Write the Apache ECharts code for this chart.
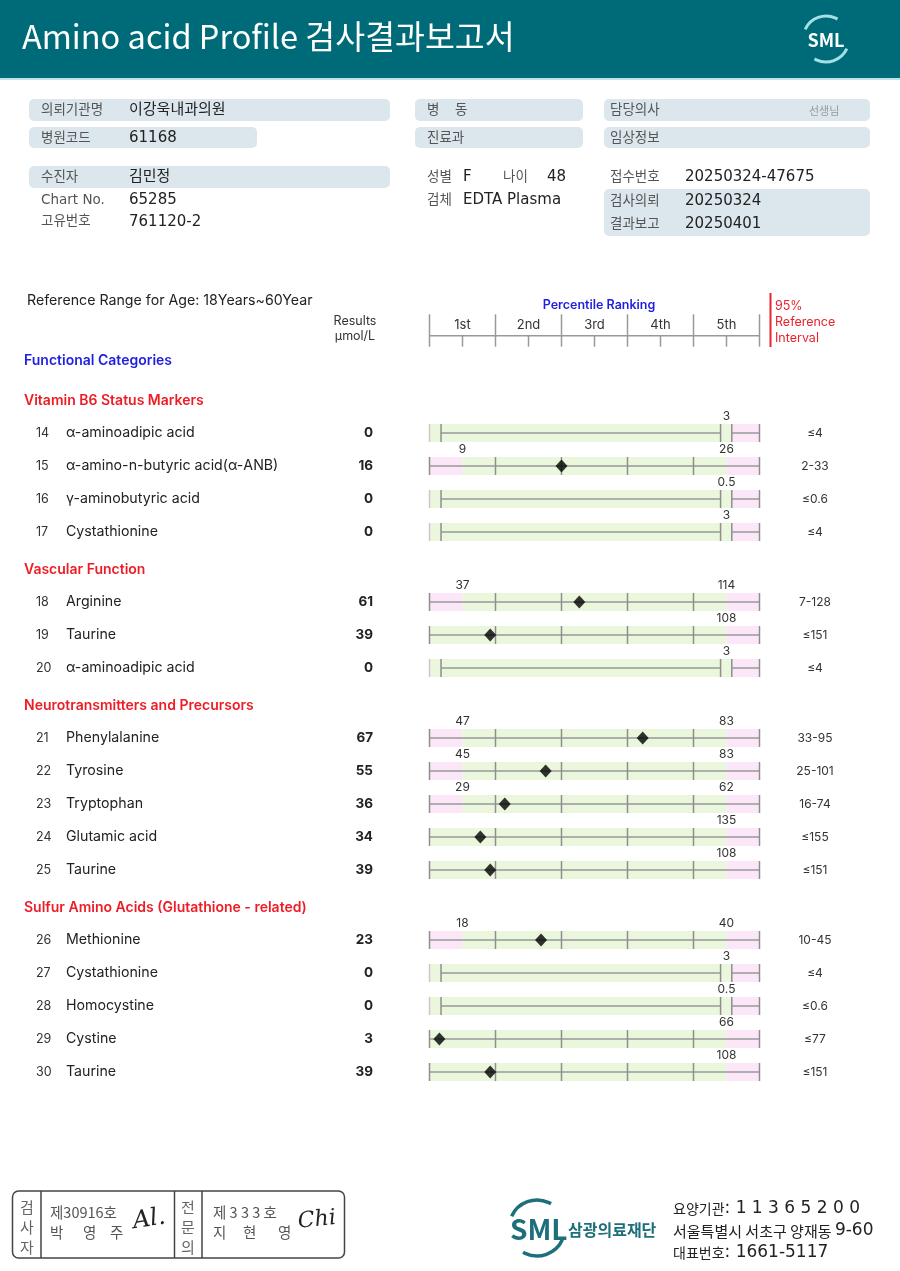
<!DOCTYPE html>
<html><head><meta charset="utf-8">
<script src="https://cdn.jsdelivr.net/npm/echarts@6/dist/echarts.min.js"></script>
<style>html,body{margin:0;padding:0;background:#fff}#c{width:900px;height:1271px}</style>
</head><body><div id="c"></div>
<script>
// ---------------- data ----------------
const sectionTitles = ['Vitamin B6 Status Markers','Vascular Function','Neurotransmitters and Precursors','Sulfur Amino Acids (Glutathione - related)'];
const sectionSizes = [4, 3, 5, 5];
const rowNumbers = [14,15,16,17,18,19,20,21,22,23,24,25,26,27,28,29,30];
const analyteNames = ['α-aminoadipic acid','α-amino-n-butyric acid(α-ANB)','γ-aminobutyric acid','Cystathionine',
  'Arginine','Taurine','α-aminoadipic acid',
  'Phenylalanine','Tyrosine','Tryptophan','Glutamic acid','Taurine',
  'Methionine','Cystathionine','Homocystine','Cystine','Taurine'];
const resultValues = [0,16,0,0, 61,39,0, 67,55,36,34,39, 23,0,0,3,39];
const refIntervals = ['≤4','2-33','≤0.6','≤4', '7-128','≤151','≤4', '33-95','25-101','16-74','≤155','≤151', '10-45','≤4','≤0.6','≤77','≤151'];
const lowMarks  = [null,9,null,null, 37,null,null, 47,45,29,null,null, 18,null,null,null,null];
const highMarks = [3,26,0.5,3, 114,108,3, 83,83,62,135,108, 40,3,0.5,66,108];
// marker position on the percentile scale (0..5 = 1st..5th quintile)
const percentilePos = [null,2.0,null,null, 2.27,0.92,null, 3.23,1.76,1.14,0.77,0.92, 1.69,null,null,0.15,0.92];
const percentileLabels = ['1st','2nd','3rd','4th','5th'];

// ---------------- layout / style ----------------
const TRACK_LEFT = 429.5, TRACK_W = 330;
const ROW_H = 33, FIRST_Y = 433, SECTION_GAP = 37, BAND_H = 18;
const GREEN = '#eaf7dc', PINK = '#fce7f9', TICK = '#8e8e8e', LINE = '#999999';
const ZL = 0.175, ZM = 4.41, ZS = 4.58;
const FONT = 'Inter';
const KR = '"Noto Sans CJK KR"';
const MIX = '"DejaVu Sans", "Noto Sans CJK KR"';

function rowKind(g){ if (resultValues[g] === 0) return 'zero'; return lowMarks[g] != null ? 'range' : 'upper'; }

const sectionRows = []; const firstCenters = [];
let cnt = 0;
sectionSizes.forEach((n, si) => {
  firstCenters.push(FIRST_Y + cnt * ROW_H + si * SECTION_GAP);
  const arr = []; for (let k = 0; k < n; k++) arr.push(cnt + k);
  sectionRows.push(arr); cnt += n;
});

function txt(x, y, text, o) {
  o = o || {};
  const al = o.align || 'left';
  return {type:'text', x, y, silent:true, rotation:o.rotation||0, style:{text, fill:o.color||'#222',
    font:(o.style||'normal')+' '+(o.weight||'normal')+' '+(o.size||13)+'px '+(o.family||FONT),
    align:al, textAlign:al, verticalAlign:'middle', textVerticalAlign:'middle', rich:o.rich}};
}
function box(x, y, w, h) { return {type:'rect', silent:true, shape:{x, y, width:w, height:h, r:5}, style:{fill:'#dce6ed'}}; }

function trackItem(params, api) {
  const li = api.value(1), g = api.value(2);
  const X = v => api.coord([v, li])[0];
  const cy = api.coord([0, li])[1];
  const top = cy - BAND_H / 2;
  const kids = [];
  const rect = (a, b, fill) => kids.push({type:'rect', shape:{x:X(a), y:top, width:X(b)-X(a), height:BAND_H}, style:{fill}});
  const vline = (v, c) => kids.push({type:'line', shape:{x1:X(v), y1:top, x2:X(v), y2:top+BAND_H}, style:{stroke:c||TICK, lineWidth:1.5}});
  const hline = (a, b) => kids.push({type:'line', shape:{x1:X(a), y1:cy, x2:X(b), y2:cy}, style:{stroke:LINE, lineWidth:1.5}});
  const label = (v, t) => kids.push({type:'text', x:X(v), y:cy-17, style:{text:String(t), fill:'#333', font:'12px '+FONT,
      align:'center', textAlign:'center', verticalAlign:'middle', textVerticalAlign:'middle'}});
  const kind = rowKind(g);
  if (kind === 'zero') {
    rect(0, ZS, GREEN); rect(ZS, 5, PINK);
    vline(0, '#c8c8c8'); hline(ZL, ZM); vline(ZL); vline(ZM); vline(ZS); hline(ZS, 5); vline(5);
    label(4.5, highMarks[g]);
  } else {
    if (kind === 'range') { rect(0, 0.5, PINK); rect(0.5, 4.5, GREEN); } else rect(0, 4.5, GREEN);
    rect(4.5, 5, PINK);
    hline(0, 5);
    for (let k = 0; k <= 5; k++) vline(k);
    if (kind === 'range') label(0.5, lowMarks[g]);
    label(4.5, highMarks[g]);
  }
  return {type:'group', children:kids};
}

function headerItem(params, api) {
  const i = api.value(0);
  const X = v => api.coord([v, 0])[0];
  const yTop = api.coord([0, 1])[1], yBot = api.coord([0, 0])[1];
  const yLine = api.coord([0, 0.34])[1], yLab = api.coord([0, 0.67])[1];
  const st = {stroke:'#999', lineWidth:1.5};
  const kids = [
    {type:'line', shape:{x1:X(i), y1:yLine, x2:X(i+1), y2:yLine}, style:st},
    {type:'line', shape:{x1:X(i), y1:yTop, x2:X(i), y2:yBot}, style:st},
    {type:'line', shape:{x1:X(i+0.5), y1:yLine, x2:X(i+0.5), y2:yBot}, style:st},
    {type:'text', x:X(i+0.5), y:yLab, style:{text:percentileLabels[i], fill:'#333', font:'13px '+FONT, align:'center', textAlign:'center', verticalAlign:'middle', textVerticalAlign:'middle'}}
  ];
  if (i === percentileLabels.length - 1) kids.push({type:'line', shape:{x1:X(i+1), y1:yTop, x2:X(i+1), y2:yBot}, style:st});
  return {type:'group', children:kids};
}

// ---------------- option ----------------
const grids = [], xAxes = [], yAxes = [], series = [];
sectionRows.forEach((rows, si) => {
  grids.push({left:TRACK_LEFT, width:TRACK_W, top:firstCenters[si] - ROW_H/2, height:ROW_H*rows.length, containLabel:false, outerBoundsMode:'none'});
  xAxes.push({type:'value', gridIndex:si, min:0, max:5, show:false});
  const cats = rows.map(String);
  const yl = yAxes.length;
  yAxes.push({type:'category', gridIndex:si, data:cats, inverse:true, position:'left',
    axisLine:{show:false}, axisTick:{show:false}, splitLine:{show:false},
    axisLabel:{interval:0, margin:TRACK_LEFT-373, formatter:v => { const g = Number(v);
      return '{n|'+rowNumbers[g]+'}{t|'+analyteNames[g]+'}{r|'+resultValues[g]+'}'; },
      rich:{n:{width:30, align:'left', fontSize:12.5, color:'#333', fontFamily:FONT},
            t:{width:274, align:'left', fontSize:14.2, color:'#222', fontFamily:FONT},
            r:{width:33, align:'right', fontSize:13.5, fontWeight:'bold', color:'#222', fontFamily:FONT}}}});
  yAxes.push({type:'category', gridIndex:si, data:cats, inverse:true, position:'right',
    axisLine:{show:false}, axisTick:{show:false}, splitLine:{show:false},
    axisLabel:{interval:0, margin:35.5, formatter:v => '{a|'+refIntervals[Number(v)]+'}',
      rich:{a:{width:40, align:'center', fontSize:12, color:'#333', fontFamily:FONT}}}});
  series.push({type:'custom', xAxisIndex:si, yAxisIndex:yl, clip:false, silent:true, z:2,
    renderItem:trackItem, data:rows.map((g, li) => [0, li, g])});
  series.push({type:'scatter', xAxisIndex:si, yAxisIndex:yl, silent:true, z:5, symbol:'diamond', symbolSize:[12,13],
    itemStyle:{color:'#000'}, data:rows.map((g, li) => percentilePos[g] == null ? null : [percentilePos[g], li]).filter(d => d)});
});
const hg = grids.length;
grids.push({left:TRACK_LEFT, width:TRACK_W, top:314.3, height:32.4, containLabel:false, outerBoundsMode:'none'});
xAxes.push({type:'value', gridIndex:hg, min:0, max:5, show:false});
const hy = yAxes.length;
yAxes.push({type:'value', gridIndex:hg, min:0, max:1, show:false});
series.push({type:'custom', xAxisIndex:hg, yAxisIndex:hy, clip:false, silent:true, renderItem:headerItem,
  data:percentileLabels.map((t, i) => [i, 0])});

// ---------------- page graphics ----------------
const G = [];
G.push({type:'rect', silent:true, shape:{x:0, y:0, width:900, height:78}, style:{fill:'#006b78'}});
G.push({type:'rect', silent:true, shape:{x:0, y:78, width:900, height:2}, style:{fill:'#b9e4ea'}});
G.push(txt(22, 37, 'Amino acid Profile 검사결과보고서', {color:'#fff', size:32.5, family:KR}));
// header logo
G.push({type:'arc', silent:true, shape:{cx:826, cy:39, r:23, startAngle:Math.PI*205/180, endAngle:Math.PI*300/180}, style:{stroke:'#a6dfe6', lineWidth:3, fill:null}});
G.push({type:'arc', silent:true, shape:{cx:826, cy:39, r:23, startAngle:Math.PI*25/180, endAngle:Math.PI*120/180}, style:{stroke:'#a6dfe6', lineWidth:3, fill:null}});
G.push(txt(826, 40, 'SML', {color:'#fff', size:18, weight:'bold', family:KR, align:'center'}));

// info boxes
[[29,99,361,22],[415,99,168,22],[604,99,266,22],[29,127,228,21],[415,127,168,21],[604,127,266,21],[29,166,361,22],[604,189,266,47]]
  .forEach(b => G.push(box(b[0], b[1], b[2], b[3])));
const lab = {color:'#555', size:13.5, family:MIX};
const val = {color:'#222', size:15, family:MIX};
[['의뢰기관명',41,110],['병원코드',41,138],['수진자',41,177],['Chart No.',41,200],['고유번호',41,221],
 ['병',427,110],['동',455,110],['진료과',427,138],['담당의사',610,110],['임상정보',610,138],
 ['성별',427,177],['나이',503,177],['검체',427,200],['접수번호',610,177],['검사의뢰',610,201],['결과보고',610,224]]
  .forEach(t => G.push(txt(t[1], t[2], t[0], lab)));
G.push(txt(809, 111, '선생님', {color:'#999', size:11, family:KR}));
[['이강욱내과의원',129,110],['61168',129,138],['김민정',129,177],['65285',129,200],['761120-2',129,222],
 ['F',463,177],['48',547,177],['EDTA Plasma',463,200],['20250324-47675',685,177],['20250324',685,201],['20250401',685,224]]
  .forEach(t => G.push(txt(t[1], t[2], t[0], val)));

// chart headings
G.push(txt(27, 301, 'Reference Range for Age: 18Years~60Year', {size:14.2, color:'#222'}));
G.push(txt(355, 321, 'Results', {size:12.5, color:'#333', align:'center'}));
G.push(txt(355, 336, 'μmol/L', {size:12.5, color:'#333', align:'center'}));
G.push(txt(24, 361, 'Functional Categories', {size:14, weight:600, color:'#1f1fe0'}));
G.push(txt(599, 305, 'Percentile Ranking', {size:12.5, weight:600, color:'#1f1fe0', align:'center'}));
G.push({type:'line', silent:true, shape:{x1:770.5, y1:293, x2:770.5, y2:347}, style:{stroke:'#e8232d', lineWidth:2}});
G.push(txt(775, 306, '95%', {size:12.5, color:'#e8232d'}));
G.push(txt(775, 322, 'Reference', {size:12.5, color:'#e8232d'}));
G.push(txt(775, 338, 'Interval', {size:12.5, color:'#e8232d'}));
sectionTitles.forEach((t, si) => G.push(txt(24, firstCenters[si] - 32, t, {size:14, weight:600, color:'#ee1c25'})));

// footer signature box
G.push({type:'rect', silent:true, shape:{x:12.5, y:1191, width:332, height:67, r:6}, style:{stroke:'#444', lineWidth:1.5, fill:'#fff'}});
[41, 174.5, 202].forEach(x => G.push({type:'line', silent:true, shape:{x1:x, y1:1191, x2:x, y2:1258}, style:{stroke:'#444', lineWidth:1.5}}));
const sg = {color:'#666', size:15, family:KR, align:'center'};
['검','사','자'].forEach((c, k) => G.push(txt(27, 1207 + k*20, c, sg)));
['전','문','의'].forEach((c, k) => G.push(txt(188, 1207 + k*20, c, sg)));
const sn = {color:'#555', size:14.5, family:KR};
G.push(txt(50, 1212, '제30916호', sn));
G.push(txt(50, 1232, '박', sn)); G.push(txt(83, 1232, '영', sn)); G.push(txt(110, 1232, '주', sn));
G.push(txt(213, 1212, '제 3 3 3 호', sn));
G.push(txt(213, 1232, '지', sn)); G.push(txt(243, 1232, '현', sn)); G.push(txt(278, 1232, '영', sn));
G.push(txt(133, 1222, 'Al.', {color:'#222', size:24, style:'italic', family:'"DejaVu Serif"', rotation:0.15}));
G.push(txt(298, 1222, 'Chi', {color:'#222', size:22, style:'italic', family:'"DejaVu Serif"', rotation:0.1}));

// footer logo + address
G.push({type:'arc', silent:true, shape:{cx:537, cy:1228, r:28, startAngle:Math.PI*205/180, endAngle:Math.PI*300/180}, style:{stroke:'#1d6f7b', lineWidth:3.5, fill:null}});
G.push({type:'arc', silent:true, shape:{cx:537, cy:1228, r:28, startAngle:Math.PI*25/180, endAngle:Math.PI*120/180}, style:{stroke:'#1d6f7b', lineWidth:3.5, fill:null}});
G.push(txt(510, 1229, 'SML', {color:'#1d6f7b', size:28, weight:'bold', family:KR}));
G.push(txt(568, 1230, '삼광의료재단', {color:'#1d6f7b', size:16, weight:'bold', family:KR}));
const fr = {a:{fontSize:14, color:'#555', fontFamily:KR}, c:{fontSize:15, color:'#555', fontFamily:KR}, b:{fontSize:17, color:'#222', fontFamily:MIX}};
G.push(txt(673, 1209, '{a|요양기관}{b|: 1 1 3 6 5 2 0 0}', {rich:fr, family:KR}));
G.push(txt(673, 1231, '{c|서울특별시 서초구 양재동 }{b|9-60}', {rich:fr, family:KR}));
G.push(txt(673, 1253, '{a|대표번호}{b|: 1661-5117}', {rich:fr, family:KR}));

const chart = echarts.init(document.getElementById('c'));
chart.setOption({
  backgroundColor:'#fff', animation:false,
  grid:grids, xAxis:xAxes, yAxis:yAxes, series:series,
  graphic:{elements:G}
});
</script>
</body></html>
